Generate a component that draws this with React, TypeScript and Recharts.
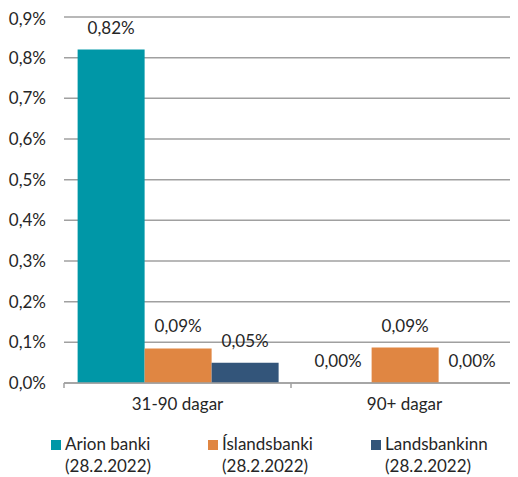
import React from 'react';
import { BarChart, Bar, XAxis, YAxis, CartesianGrid, Legend, LabelList } from 'recharts';

const categories = ['31-90 dagar', '90+ dagar'];
const arionValues = [0.82, 0];
const islandsValues = [0.085, 0.087];
const landsValues = [0.05, 0];
const yTicks = [0, 0.1, 0.2, 0.3, 0.4, 0.5, 0.6, 0.7, 0.8, 0.9];

const seriesNames = ['Arion banki', 'Íslandsbanki', 'Landsbankinn'];
const seriesDate = '(28.2.2022)';
const seriesColors = ['#0097A7', '#E08642', '#33557A'];

const data = categories.map((c, i) => ({
  name: c,
  arion: arionValues[i],
  islands: islandsValues[i],
  lands: landsValues[i],
}));

const FONT = 'Lato, "Open Sans", sans-serif';
const FS = 17;
const TEXT = '#262626';
const GRID = '#a0a0a0';

const fmtY = (v: number) => v.toFixed(1).replace('.', ',') + '%';
const fmtLabel = (v: any) => Number(v).toFixed(2).replace('.', ',') + '%';

const XTick = (props: any) => {
  const { x, y, payload, width, visibleTicksCount } = props;
  const half = width / visibleTicksCount / 2;
  return (
    <g>
      <line x1={x - half} y1={y} x2={x - half} y2={y + 5} stroke={GRID} strokeWidth={1.5} />
      <text x={x} y={y + 27} textAnchor="middle" fontSize={FS} fontFamily={FONT} fill={TEXT}>
        {payload.value}
      </text>
    </g>
  );
};

const itemWidths = [157, 163, 140];

const LegendContent = (props: any) => {
  const payload = [...(props.payload || [])].sort(
    (a: any, b: any) => seriesNames.indexOf(a.value) - seriesNames.indexOf(b.value)
  );
  return (
    <div style={{ display: 'flex', paddingLeft: 43, fontFamily: FONT, fontSize: FS, lineHeight: '22px', color: TEXT }}>
      {payload.map((p: any, i: number) => (
        <div key={i} style={{ display: 'flex', width: itemWidths[i] }}>
          <div style={{ width: 10, height: 10, background: p.color, marginTop: 7, marginRight: 4, flexShrink: 0 }} />
          <div style={{ textAlign: 'left', whiteSpace: 'nowrap' }}>
            <div>{p.value}</div>
            <div>{seriesDate}</div>
          </div>
        </div>
      ))}
    </div>
  );
};

const labelStyle = { fontSize: FS, fontFamily: FONT, fill: TEXT };

export default function App() {
  return (
    <BarChart
      width={510}
      height={469}
      data={data}
      margin={{ top: 9, right: 0, left: 0, bottom: 20 }}
      barCategoryGap="6%"
      barGap={0}
    >
      <CartesianGrid vertical={false} stroke={GRID} strokeWidth={1.5} />
      <XAxis
        dataKey="name"
        axisLine={{ stroke: GRID, strokeWidth: 1.5 }}
        tickLine={false}
        tickSize={0}
        tickMargin={0}
        height={30}
        tick={<XTick />}
        interval={0}
      />
      <YAxis
        width={56}
        domain={[0, 0.9]}
        ticks={yTicks}
        tickFormatter={fmtY}
        axisLine={false}
        tickLine={false}
        tickSize={0}
        tickMargin={18}
        tick={{ fontSize: FS, fontFamily: FONT, fill: TEXT }}
      />
      <Legend verticalAlign="bottom" align="left" content={<LegendContent />} wrapperStyle={{ bottom: 0, left: 0, width: 510 }} />
      <Bar dataKey="arion" name={seriesNames[0]} fill={seriesColors[0]} minPointSize={0.001} isAnimationActive={false}>
        <LabelList dataKey="arion" position="top" offset={16} formatter={fmtLabel} style={labelStyle} />
      </Bar>
      <Bar dataKey="islands" name={seriesNames[1]} fill={seriesColors[1]} minPointSize={0.001} isAnimationActive={false}>
        <LabelList dataKey="islands" position="top" offset={16} formatter={fmtLabel} style={labelStyle} />
      </Bar>
      <Bar dataKey="lands" name={seriesNames[2]} fill={seriesColors[2]} minPointSize={0.001} isAnimationActive={false}>
        <LabelList dataKey="lands" position="top" offset={16} formatter={fmtLabel} style={labelStyle} />
      </Bar>
    </BarChart>
  );
}
